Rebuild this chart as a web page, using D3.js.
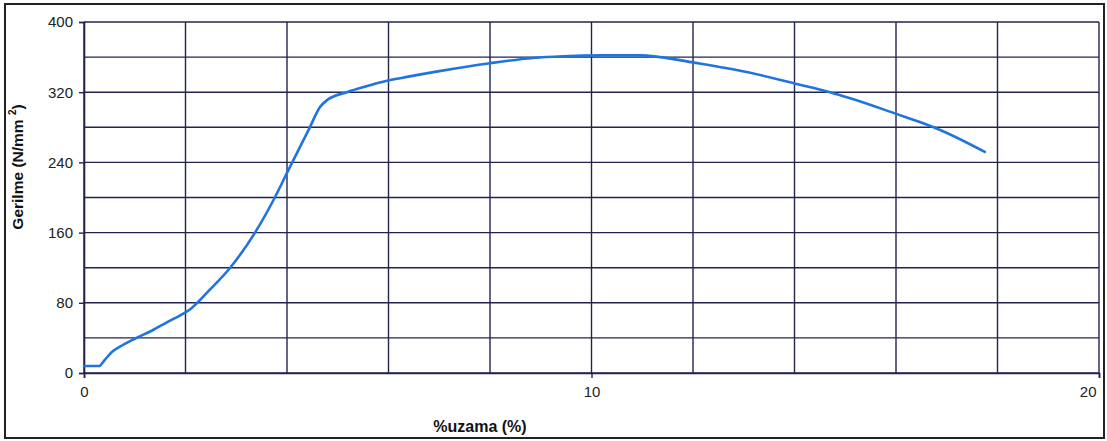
<!DOCTYPE html>
<html><head><meta charset="utf-8">
<script src="https://cdn.jsdelivr.net/npm/d3@7"></script>
<style>
html,body{margin:0;padding:0;background:#fff;}
text{font-family:"Liberation Sans",Arial,sans-serif;}
</style></head>
<body>
<script>
const strain = [0, 0.3, 0.41, 0.55, 0.71, 1.0, 1.36, 1.64, 2.0, 2.1, 2.48, 2.88, 3.37, 3.76, 4.0, 4.45, 4.65, 4.79, 5.18, 5.58, 5.83, 6.23, 7.0, 8.0, 8.85, 9.44, 10.2, 10.96, 11.35, 12.0, 13.06, 14.0, 14.7, 15.1, 16.02, 16.47, 16.87, 17.75];
const stress = [8, 8, 15, 24, 30, 39, 49, 58, 69, 73, 95, 120, 160, 200, 228, 280, 303, 311, 320, 327, 331, 336, 344, 353, 359, 361, 362, 362, 360, 354, 343, 330, 320, 313, 295, 286, 277, 252];
const xTickLabels = [0, 10, 20];
const yTickLabels = [0, 80, 160, 240, 320, 400];
const xGrid = [0, 2, 4, 6, 8, 10, 12, 14, 16, 18, 20];
const yGrid = [0, 40, 80, 120, 160, 200, 240, 280, 320, 360, 400];
const xTitle = "%uzama (%)";
const yTitle = "Gerilme (N/mm";

const W = 1107, H = 441;
const svg = d3.select("body").append("svg").attr("width", W).attr("height", H);
svg.append("rect").attr("x", 5).attr("y", 4).attr("width", 1099).attr("height", 434)
  .attr("fill", "#fff").attr("stroke", "#222").attr("stroke-width", 2);

const x = d3.scaleLinear().domain([0, 20]).range([84, 1099]);
const y = d3.scaleLinear().domain([0, 400]).range([373, 22]);
const gridColor = "#23234f";

const g = svg.append("g");
g.selectAll("line.h").data(yGrid).enter().append("line")
  .attr("x1", x(0)).attr("x2", x(20)).attr("y1", d => y(d)).attr("y2", d => y(d))
  .attr("stroke", gridColor).attr("stroke-width", 1.4);
g.selectAll("line.v").data(xGrid).enter().append("line")
  .attr("y1", y(0)).attr("y2", y(400)).attr("x1", d => x(d)).attr("x2", d => x(d))
  .attr("stroke", gridColor).attr("stroke-width", 1.4);

// y axis
const yAxis = d3.axisLeft(y).tickValues(yTickLabels).tickSize(5).tickPadding(6).tickFormat(d3.format("d"));
const ya = svg.append("g").attr("transform", `translate(${x(0)},0)`).call(yAxis);
ya.select(".domain").attr("stroke", gridColor).attr("stroke-width", 1.6);
ya.selectAll(".tick line").attr("stroke", gridColor).attr("stroke-width", 1.4);
ya.selectAll("text").attr("font-size", 15).attr("fill", "#222");

// x axis
const xAxis = d3.axisBottom(x).tickValues(xTickLabels).tickSize(5).tickPadding(8).tickFormat(d3.format("d"));
const xa = svg.append("g").attr("transform", `translate(0,${y(0)})`).call(xAxis);
xa.select(".domain").attr("stroke", gridColor).attr("stroke-width", 1.6);
xa.selectAll(".tick line").attr("stroke", gridColor).attr("stroke-width", 1.4);
xa.selectAll("text").attr("font-size", 15).attr("fill", "#222");
xa.selectAll(".tick").filter(d => d === 20).select("text").attr("text-anchor", "end").attr("dx", -3);

// curve
const pts = strain.map((s, i) => [s, stress[i]]);
const line = d3.line().x(d => x(d[0])).y(d => y(d[1])).curve(d3.curveMonotoneX);
svg.append("path").datum(pts).attr("d", line)
  .attr("fill", "none").attr("stroke", "#1f74e0").attr("stroke-width", 2.6)
  .attr("stroke-linejoin", "round").attr("stroke-linecap", "round");

// titles
svg.append("text").attr("x", 480).attr("y", 432).attr("text-anchor", "middle")
  .attr("font-size", 16).attr("font-weight", "bold").attr("fill", "#111").text(xTitle);
const yt = svg.append("text").attr("transform", "translate(23,167) rotate(-90)")
  .attr("text-anchor", "middle").attr("font-size", 15.5).attr("font-weight", "bold").attr("fill", "#111");
yt.append("tspan").text(yTitle + "  ");
yt.append("tspan").attr("font-size", 10).attr("dy", -7).text("2");
yt.append("tspan").attr("dy", 7).text(")");
</script>
</body></html>
